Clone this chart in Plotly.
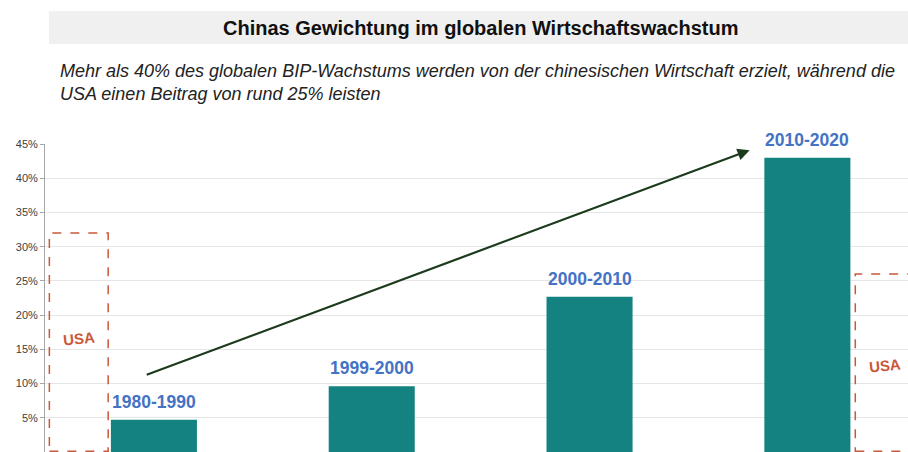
import plotly.graph_objects as go

periods = ["1980-1990", "1999-2000", "2000-2010", "2010-2020"]
china_share = [0.047, 0.096, 0.227, 0.430]
usa_periods = ["1980-1990", "2010-2020"]
usa_share = [0.32, 0.26]
usa_offset = [-0.345, 0.355]      # position of USA box relative to the period centre
usa_label_frac = [0.52, 0.485]    # label height as fraction of the USA value
y_ticks = [0, 0.05, 0.10, 0.15, 0.20, 0.25, 0.30, 0.35, 0.40, 0.45]
y_tick_labels = ["0%", "5%", "10%", "15%", "20%", "25%", "30%", "35%", "40%", "45%"]
arrow_start = (-0.04, 0.112)
arrow_end = (2.735, 0.441)

title = "Chinas Gewichtung im globalen Wirtschaftswachstum"
subtitle = ("Mehr als 40% des globalen BIP-Wachstums werden von der chinesischen Wirtschaft erzielt, während die<br>"
            "USA einen Beitrag von rund 25% leisten")

TEAL = "#148280"
BLUE = "#4472C4"
RED = "#C9583A"
FONT = "Liberation Sans, Arial"

xpos = list(range(len(periods)))

fig = go.Figure()
fig.add_trace(go.Bar(
    x=xpos, y=china_share, width=0.395,
    marker=dict(color=TEAL, line=dict(width=0)),
    showlegend=False, hoverinfo="skip",
))

shapes = []
annotations = []

# period labels above the bars
for xp, v, p in zip(xpos, china_share, periods):
    annotations.append(dict(x=xp, y=v, xref="x", yref="y", text="<b>" + p + "</b>",
                            showarrow=False, yanchor="bottom", yshift=6,
                            font=dict(color=BLUE, size=17.5, family=FONT)))

bw = 0.27
for p, v, off, lf in zip(usa_periods, usa_share, usa_offset, usa_label_frac):
    c = periods.index(p) + off
    shapes.append(dict(type="rect", xref="x", yref="y",
                       x0=c - bw / 2, x1=c + bw / 2, y0=0.001, y1=v,
                       line=dict(color=RED, width=1.5, dash="dash"),
                       fillcolor="rgba(0,0,0,0)", layer="above"))
    annotations.append(dict(x=c, y=v * lf, xref="x", yref="y",
                            text="<b>USA</b>", showarrow=False, textangle=-6,
                            font=dict(color=RED, size=15, family=FONT)))

# arrow
annotations.append(dict(x=arrow_end[0], y=arrow_end[1], ax=arrow_start[0], ay=arrow_start[1],
                        xref="x", yref="y", axref="x", ayref="y", text="",
                        showarrow=True, arrowhead=2, arrowsize=1.1, arrowwidth=2.2,
                        arrowcolor="#1C3A1C", standoff=0, startstandoff=0))

# title box
shapes.append(dict(type="rect", xref="paper", yref="paper", x0=0.0046, x1=1.0,
                   y0=1 + (144 - 44) / 308, y1=1 + (144 - 11) / 308,
                   fillcolor="#F0F0F0", line=dict(width=0), layer="below"))
annotations.append(dict(x=0.505, y=1 + (144 - 28) / 308, xref="paper", yref="paper",
                        text="<b>" + title + "</b>", showarrow=False,
                        xanchor="center", yanchor="middle",
                        font=dict(size=20, color="#111111", family=FONT)))
annotations.append(dict(x=(58 - 45) / 863, y=1 + (144 - 59) / 308, xref="paper", yref="paper",
                        text="<i>" + subtitle + "</i>", showarrow=False, align="left",
                        xanchor="left", yanchor="top",
                        font=dict(size=18, color="#222222", family=FONT)))

fig.update_layout(
    width=908, height=452,
    margin=dict(l=45, r=0, t=144, b=0),
    paper_bgcolor="white", plot_bgcolor="white",
    shapes=shapes, annotations=annotations,
    xaxis=dict(range=[-0.5, 3.462], showticklabels=False, showgrid=False,
               zeroline=False, showline=False, ticks=""),
    yaxis=dict(range=[0, 0.45], tickvals=y_ticks, ticktext=y_tick_labels,
               showgrid=True, gridcolor="#E6E6E6", gridwidth=1,
               zeroline=False, showline=True, linecolor="#A6A6A6", linewidth=1,
               ticks="outside", ticklen=4, tickcolor="#A6A6A6",
               tickfont=dict(size=11, color="#404040", family=FONT)),
)

fig.write_html("out.html")
